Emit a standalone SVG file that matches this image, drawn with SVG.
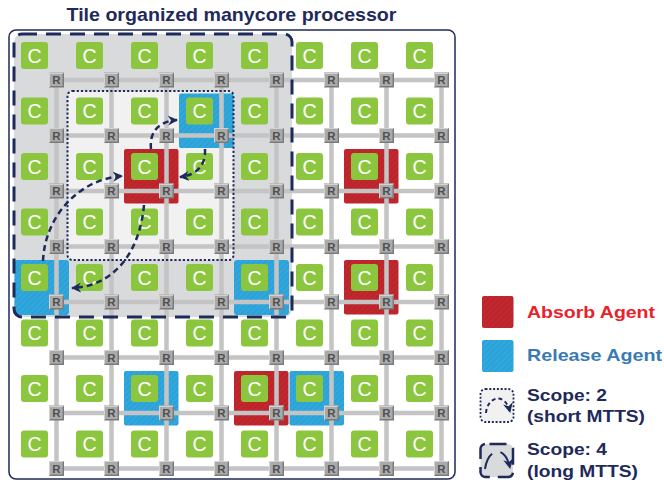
<svg xmlns="http://www.w3.org/2000/svg" xmlns:xlink="http://www.w3.org/1999/xlink" width="664" height="482" viewBox="0 0 664 482">
<style>
  text { font-family: "Liberation Sans", Arial, sans-serif; }
  .title { font-size: 19px; font-weight: bold; fill: #1e2a5a; }
  .legend { font-size: 17px; font-weight: bold; fill: #1e2a5a; }
  .core rect { fill: #8cc63f; }
  .core text { font-size: 19.5px; fill: #ffffff; text-anchor: middle; }
  .router text { font-size: 11.5px; font-weight: bold; fill: #505050; text-anchor: middle; }
  .link { stroke: #c4c4c4; stroke-width: 4.5; fill: none; }
  .mig { stroke: #1e2a5a; stroke-width: 2.5; fill: none; stroke-dasharray: 6 4; marker-end: url(#head); }
  .absorb { fill: url(#hatchRed); }
  .release { fill: url(#hatchBlue); }
</style>
<defs>
  <pattern id="hatchRed" width="4" height="4" patternUnits="userSpaceOnUse" patternTransform="rotate(45)">
    <rect width="4" height="4" fill="#c3272e"/>
    <rect width="1.2" height="4" fill="#b3232a"/>
  </pattern>
  <pattern id="hatchBlue" width="4" height="4" patternUnits="userSpaceOnUse" patternTransform="rotate(45)">
    <rect width="4" height="4" fill="#30a8de"/>
    <rect width="1.2" height="4" fill="#2a9dd3"/>
  </pattern>
  <marker id="head" viewBox="0 0 10 10" refX="9" refY="5" markerWidth="10" markerHeight="10" markerUnits="userSpaceOnUse" orient="auto">
    <path d="M0,0 L10,5 L0,10 L3,5 z" fill="#1e2a5a"/>
  </marker>
  <!-- bevelled router box, centred on 0,0 -->
  <g id="rbox">
    <rect x="-7.5" y="-7.5" width="15" height="15" fill="#7a7a7a"/>
    <path d="M-7.5,-7.5 H7.5 L6,-6 H-6 V6 L-7.5,7.5 Z" fill="#d2d2d2"/>
    <rect x="-6" y="-6" width="12" height="12" fill="#ababab"/>
  </g>
</defs>

<rect width="664" height="482" fill="#ffffff"/>

<text class="title" x="66.5" y="21" textLength="330" lengthAdjust="spacingAndGlyphs">Tile organized manycore processor</text>

<!-- chip outline -->
<rect x="9" y="30" width="446" height="449" rx="7" fill="#ffffff" stroke="#1e2a5a" stroke-width="1.5"/>

<!-- scope areas (fills) -->
<g id="scope4-area"><rect x="14" y="34" width="278" height="283" rx="8" fill="#d9dadc"/></g>
<g id="scope2-area"><rect x="67.5" y="91" width="166" height="169" rx="5" fill="#f1f1f1"/></g>

<!-- agents -->
<g id="agents">
  <rect class="release" x="179" y="93.5" width="54.5" height="54.5" rx="2"/>
  <rect class="absorb" x="124" y="149" width="54.5" height="54.5" rx="2"/>
  <rect class="release" x="14.5" y="260" width="54.5" height="55" rx="3"/>
  <rect class="release" x="234" y="260" width="55" height="55" rx="3"/>
  <rect class="absorb" x="344" y="149" width="54.5" height="54.5" rx="2"/>
  <rect class="absorb" x="344" y="260" width="54.5" height="54.5" rx="2"/>
  <rect class="release" x="124" y="371" width="54.5" height="54.5" rx="2"/>
  <rect class="absorb" x="234" y="371" width="54.5" height="54.5" rx="2"/>
  <rect class="release" x="289.5" y="371" width="54.5" height="54.5" rx="2"/>
</g>

<!-- mesh links between routers -->
<g id="connectors">
  <path class="link" d="M56.5 80H441.5M56.5 135.5H441.5M56.5 191H441.5M56.5 246.5H441.5M56.5 302H441.5M56.5 357.5H441.5M56.5 413H441.5M56.5 468.5H441.5M56.5 80V468.5M111.5 80V468.5M166.5 80V468.5M221.5 80V468.5M276.5 80V468.5M331.5 80V468.5M386.5 80V468.5M441.5 80V468.5"/>
</g>

<!-- cores -->
<g id="cores">
<g id="core-r0-c0" class="core"><rect x="21" y="42" width="27" height="27" rx="3"/><text x="34.5" y="62.5">C</text></g>
<g id="core-r0-c1" class="core"><rect x="76" y="42" width="27" height="27" rx="3"/><text x="89.5" y="62.5">C</text></g>
<g id="core-r0-c2" class="core"><rect x="131" y="42" width="27" height="27" rx="3"/><text x="144.5" y="62.5">C</text></g>
<g id="core-r0-c3" class="core"><rect x="186" y="42" width="27" height="27" rx="3"/><text x="199.5" y="62.5">C</text></g>
<g id="core-r0-c4" class="core"><rect x="241" y="42" width="27" height="27" rx="3"/><text x="254.5" y="62.5">C</text></g>
<g id="core-r0-c5" class="core"><rect x="296" y="42" width="27" height="27" rx="3"/><text x="309.5" y="62.5">C</text></g>
<g id="core-r0-c6" class="core"><rect x="351" y="42" width="27" height="27" rx="3"/><text x="364.5" y="62.5">C</text></g>
<g id="core-r0-c7" class="core"><rect x="406" y="42" width="27" height="27" rx="3"/><text x="419.5" y="62.5">C</text></g>

<g id="core-r1-c0" class="core"><rect x="21" y="97.5" width="27" height="27" rx="3"/><text x="34.5" y="118">C</text></g>
<g id="core-r1-c1" class="core"><rect x="76" y="97.5" width="27" height="27" rx="3"/><text x="89.5" y="118">C</text></g>
<g id="core-r1-c2" class="core"><rect x="131" y="97.5" width="27" height="27" rx="3"/><text x="144.5" y="118">C</text></g>
<g id="core-r1-c3" class="core"><rect x="186" y="97.5" width="27" height="27" rx="3"/><text x="199.5" y="118">C</text></g>
<g id="core-r1-c4" class="core"><rect x="241" y="97.5" width="27" height="27" rx="3"/><text x="254.5" y="118">C</text></g>
<g id="core-r1-c5" class="core"><rect x="296" y="97.5" width="27" height="27" rx="3"/><text x="309.5" y="118">C</text></g>
<g id="core-r1-c6" class="core"><rect x="351" y="97.5" width="27" height="27" rx="3"/><text x="364.5" y="118">C</text></g>
<g id="core-r1-c7" class="core"><rect x="406" y="97.5" width="27" height="27" rx="3"/><text x="419.5" y="118">C</text></g>

<g id="core-r2-c0" class="core"><rect x="21" y="153" width="27" height="27" rx="3"/><text x="34.5" y="173.5">C</text></g>
<g id="core-r2-c1" class="core"><rect x="76" y="153" width="27" height="27" rx="3"/><text x="89.5" y="173.5">C</text></g>
<g id="core-r2-c2" class="core"><rect x="131" y="153" width="27" height="27" rx="3"/><text x="144.5" y="173.5">C</text></g>
<g id="core-r2-c3" class="core"><rect x="186" y="153" width="27" height="27" rx="3"/><text x="199.5" y="173.5">C</text></g>
<g id="core-r2-c4" class="core"><rect x="241" y="153" width="27" height="27" rx="3"/><text x="254.5" y="173.5">C</text></g>
<g id="core-r2-c5" class="core"><rect x="296" y="153" width="27" height="27" rx="3"/><text x="309.5" y="173.5">C</text></g>
<g id="core-r2-c6" class="core"><rect x="351" y="153" width="27" height="27" rx="3"/><text x="364.5" y="173.5">C</text></g>
<g id="core-r2-c7" class="core"><rect x="406" y="153" width="27" height="27" rx="3"/><text x="419.5" y="173.5">C</text></g>

<g id="core-r3-c0" class="core"><rect x="21" y="208.5" width="27" height="27" rx="3"/><text x="34.5" y="229">C</text></g>
<g id="core-r3-c1" class="core"><rect x="76" y="208.5" width="27" height="27" rx="3"/><text x="89.5" y="229">C</text></g>
<g id="core-r3-c2" class="core"><rect x="131" y="208.5" width="27" height="27" rx="3"/><text x="144.5" y="229">C</text></g>
<g id="core-r3-c3" class="core"><rect x="186" y="208.5" width="27" height="27" rx="3"/><text x="199.5" y="229">C</text></g>
<g id="core-r3-c4" class="core"><rect x="241" y="208.5" width="27" height="27" rx="3"/><text x="254.5" y="229">C</text></g>
<g id="core-r3-c5" class="core"><rect x="296" y="208.5" width="27" height="27" rx="3"/><text x="309.5" y="229">C</text></g>
<g id="core-r3-c6" class="core"><rect x="351" y="208.5" width="27" height="27" rx="3"/><text x="364.5" y="229">C</text></g>
<g id="core-r3-c7" class="core"><rect x="406" y="208.5" width="27" height="27" rx="3"/><text x="419.5" y="229">C</text></g>

<g id="core-r4-c0" class="core"><rect x="21" y="264" width="27" height="27" rx="3"/><text x="34.5" y="284.5">C</text></g>
<g id="core-r4-c1" class="core"><rect x="76" y="264" width="27" height="27" rx="3"/><text x="89.5" y="284.5">C</text></g>
<g id="core-r4-c2" class="core"><rect x="131" y="264" width="27" height="27" rx="3"/><text x="144.5" y="284.5">C</text></g>
<g id="core-r4-c3" class="core"><rect x="186" y="264" width="27" height="27" rx="3"/><text x="199.5" y="284.5">C</text></g>
<g id="core-r4-c4" class="core"><rect x="241" y="264" width="27" height="27" rx="3"/><text x="254.5" y="284.5">C</text></g>
<g id="core-r4-c5" class="core"><rect x="296" y="264" width="27" height="27" rx="3"/><text x="309.5" y="284.5">C</text></g>
<g id="core-r4-c6" class="core"><rect x="351" y="264" width="27" height="27" rx="3"/><text x="364.5" y="284.5">C</text></g>
<g id="core-r4-c7" class="core"><rect x="406" y="264" width="27" height="27" rx="3"/><text x="419.5" y="284.5">C</text></g>

<g id="core-r5-c0" class="core"><rect x="21" y="319.5" width="27" height="27" rx="3"/><text x="34.5" y="340">C</text></g>
<g id="core-r5-c1" class="core"><rect x="76" y="319.5" width="27" height="27" rx="3"/><text x="89.5" y="340">C</text></g>
<g id="core-r5-c2" class="core"><rect x="131" y="319.5" width="27" height="27" rx="3"/><text x="144.5" y="340">C</text></g>
<g id="core-r5-c3" class="core"><rect x="186" y="319.5" width="27" height="27" rx="3"/><text x="199.5" y="340">C</text></g>
<g id="core-r5-c4" class="core"><rect x="241" y="319.5" width="27" height="27" rx="3"/><text x="254.5" y="340">C</text></g>
<g id="core-r5-c5" class="core"><rect x="296" y="319.5" width="27" height="27" rx="3"/><text x="309.5" y="340">C</text></g>
<g id="core-r5-c6" class="core"><rect x="351" y="319.5" width="27" height="27" rx="3"/><text x="364.5" y="340">C</text></g>
<g id="core-r5-c7" class="core"><rect x="406" y="319.5" width="27" height="27" rx="3"/><text x="419.5" y="340">C</text></g>

<g id="core-r6-c0" class="core"><rect x="21" y="375" width="27" height="27" rx="3"/><text x="34.5" y="395.5">C</text></g>
<g id="core-r6-c1" class="core"><rect x="76" y="375" width="27" height="27" rx="3"/><text x="89.5" y="395.5">C</text></g>
<g id="core-r6-c2" class="core"><rect x="131" y="375" width="27" height="27" rx="3"/><text x="144.5" y="395.5">C</text></g>
<g id="core-r6-c3" class="core"><rect x="186" y="375" width="27" height="27" rx="3"/><text x="199.5" y="395.5">C</text></g>
<g id="core-r6-c4" class="core"><rect x="241" y="375" width="27" height="27" rx="3"/><text x="254.5" y="395.5">C</text></g>
<g id="core-r6-c5" class="core"><rect x="296" y="375" width="27" height="27" rx="3"/><text x="309.5" y="395.5">C</text></g>
<g id="core-r6-c6" class="core"><rect x="351" y="375" width="27" height="27" rx="3"/><text x="364.5" y="395.5">C</text></g>
<g id="core-r6-c7" class="core"><rect x="406" y="375" width="27" height="27" rx="3"/><text x="419.5" y="395.5">C</text></g>

<g id="core-r7-c0" class="core"><rect x="21" y="430.5" width="27" height="27" rx="3"/><text x="34.5" y="451">C</text></g>
<g id="core-r7-c1" class="core"><rect x="76" y="430.5" width="27" height="27" rx="3"/><text x="89.5" y="451">C</text></g>
<g id="core-r7-c2" class="core"><rect x="131" y="430.5" width="27" height="27" rx="3"/><text x="144.5" y="451">C</text></g>
<g id="core-r7-c3" class="core"><rect x="186" y="430.5" width="27" height="27" rx="3"/><text x="199.5" y="451">C</text></g>
<g id="core-r7-c4" class="core"><rect x="241" y="430.5" width="27" height="27" rx="3"/><text x="254.5" y="451">C</text></g>
<g id="core-r7-c5" class="core"><rect x="296" y="430.5" width="27" height="27" rx="3"/><text x="309.5" y="451">C</text></g>
<g id="core-r7-c6" class="core"><rect x="351" y="430.5" width="27" height="27" rx="3"/><text x="364.5" y="451">C</text></g>
<g id="core-r7-c7" class="core"><rect x="406" y="430.5" width="27" height="27" rx="3"/><text x="419.5" y="451">C</text></g>
</g>

<!-- routers -->
<g id="routers">
<g id="router-r0-c0" class="router"><use href="#rbox" x="56.5" y="80"/><text x="56.5" y="84">R</text></g>
<g id="router-r0-c1" class="router"><use href="#rbox" x="111.5" y="80"/><text x="111.5" y="84">R</text></g>
<g id="router-r0-c2" class="router"><use href="#rbox" x="166.5" y="80"/><text x="166.5" y="84">R</text></g>
<g id="router-r0-c3" class="router"><use href="#rbox" x="221.5" y="80"/><text x="221.5" y="84">R</text></g>
<g id="router-r0-c4" class="router"><use href="#rbox" x="276.5" y="80"/><text x="276.5" y="84">R</text></g>
<g id="router-r0-c5" class="router"><use href="#rbox" x="331.5" y="80"/><text x="331.5" y="84">R</text></g>
<g id="router-r0-c6" class="router"><use href="#rbox" x="386.5" y="80"/><text x="386.5" y="84">R</text></g>
<g id="router-r0-c7" class="router"><use href="#rbox" x="441.5" y="80"/><text x="441.5" y="84">R</text></g>

<g id="router-r1-c0" class="router"><use href="#rbox" x="56.5" y="135.5"/><text x="56.5" y="139.5">R</text></g>
<g id="router-r1-c1" class="router"><use href="#rbox" x="111.5" y="135.5"/><text x="111.5" y="139.5">R</text></g>
<g id="router-r1-c2" class="router"><use href="#rbox" x="166.5" y="135.5"/><text x="166.5" y="139.5">R</text></g>
<g id="router-r1-c3" class="router"><use href="#rbox" x="221.5" y="135.5"/><text x="221.5" y="139.5">R</text></g>
<g id="router-r1-c4" class="router"><use href="#rbox" x="276.5" y="135.5"/><text x="276.5" y="139.5">R</text></g>
<g id="router-r1-c5" class="router"><use href="#rbox" x="331.5" y="135.5"/><text x="331.5" y="139.5">R</text></g>
<g id="router-r1-c6" class="router"><use href="#rbox" x="386.5" y="135.5"/><text x="386.5" y="139.5">R</text></g>
<g id="router-r1-c7" class="router"><use href="#rbox" x="441.5" y="135.5"/><text x="441.5" y="139.5">R</text></g>

<g id="router-r2-c0" class="router"><use href="#rbox" x="56.5" y="191"/><text x="56.5" y="195">R</text></g>
<g id="router-r2-c1" class="router"><use href="#rbox" x="111.5" y="191"/><text x="111.5" y="195">R</text></g>
<g id="router-r2-c2" class="router"><use href="#rbox" x="166.5" y="191"/><text x="166.5" y="195">R</text></g>
<g id="router-r2-c3" class="router"><use href="#rbox" x="221.5" y="191"/><text x="221.5" y="195">R</text></g>
<g id="router-r2-c4" class="router"><use href="#rbox" x="276.5" y="191"/><text x="276.5" y="195">R</text></g>
<g id="router-r2-c5" class="router"><use href="#rbox" x="331.5" y="191"/><text x="331.5" y="195">R</text></g>
<g id="router-r2-c6" class="router"><use href="#rbox" x="386.5" y="191"/><text x="386.5" y="195">R</text></g>
<g id="router-r2-c7" class="router"><use href="#rbox" x="441.5" y="191"/><text x="441.5" y="195">R</text></g>

<g id="router-r3-c0" class="router"><use href="#rbox" x="56.5" y="246.5"/><text x="56.5" y="250.5">R</text></g>
<g id="router-r3-c1" class="router"><use href="#rbox" x="111.5" y="246.5"/><text x="111.5" y="250.5">R</text></g>
<g id="router-r3-c2" class="router"><use href="#rbox" x="166.5" y="246.5"/><text x="166.5" y="250.5">R</text></g>
<g id="router-r3-c3" class="router"><use href="#rbox" x="221.5" y="246.5"/><text x="221.5" y="250.5">R</text></g>
<g id="router-r3-c4" class="router"><use href="#rbox" x="276.5" y="246.5"/><text x="276.5" y="250.5">R</text></g>
<g id="router-r3-c5" class="router"><use href="#rbox" x="331.5" y="246.5"/><text x="331.5" y="250.5">R</text></g>
<g id="router-r3-c6" class="router"><use href="#rbox" x="386.5" y="246.5"/><text x="386.5" y="250.5">R</text></g>
<g id="router-r3-c7" class="router"><use href="#rbox" x="441.5" y="246.5"/><text x="441.5" y="250.5">R</text></g>

<g id="router-r4-c0" class="router"><use href="#rbox" x="56.5" y="302"/><text x="56.5" y="306">R</text></g>
<g id="router-r4-c1" class="router"><use href="#rbox" x="111.5" y="302"/><text x="111.5" y="306">R</text></g>
<g id="router-r4-c2" class="router"><use href="#rbox" x="166.5" y="302"/><text x="166.5" y="306">R</text></g>
<g id="router-r4-c3" class="router"><use href="#rbox" x="221.5" y="302"/><text x="221.5" y="306">R</text></g>
<g id="router-r4-c4" class="router"><use href="#rbox" x="276.5" y="302"/><text x="276.5" y="306">R</text></g>
<g id="router-r4-c5" class="router"><use href="#rbox" x="331.5" y="302"/><text x="331.5" y="306">R</text></g>
<g id="router-r4-c6" class="router"><use href="#rbox" x="386.5" y="302"/><text x="386.5" y="306">R</text></g>
<g id="router-r4-c7" class="router"><use href="#rbox" x="441.5" y="302"/><text x="441.5" y="306">R</text></g>

<g id="router-r5-c0" class="router"><use href="#rbox" x="56.5" y="357.5"/><text x="56.5" y="361.5">R</text></g>
<g id="router-r5-c1" class="router"><use href="#rbox" x="111.5" y="357.5"/><text x="111.5" y="361.5">R</text></g>
<g id="router-r5-c2" class="router"><use href="#rbox" x="166.5" y="357.5"/><text x="166.5" y="361.5">R</text></g>
<g id="router-r5-c3" class="router"><use href="#rbox" x="221.5" y="357.5"/><text x="221.5" y="361.5">R</text></g>
<g id="router-r5-c4" class="router"><use href="#rbox" x="276.5" y="357.5"/><text x="276.5" y="361.5">R</text></g>
<g id="router-r5-c5" class="router"><use href="#rbox" x="331.5" y="357.5"/><text x="331.5" y="361.5">R</text></g>
<g id="router-r5-c6" class="router"><use href="#rbox" x="386.5" y="357.5"/><text x="386.5" y="361.5">R</text></g>
<g id="router-r5-c7" class="router"><use href="#rbox" x="441.5" y="357.5"/><text x="441.5" y="361.5">R</text></g>

<g id="router-r6-c0" class="router"><use href="#rbox" x="56.5" y="413"/><text x="56.5" y="417">R</text></g>
<g id="router-r6-c1" class="router"><use href="#rbox" x="111.5" y="413"/><text x="111.5" y="417">R</text></g>
<g id="router-r6-c2" class="router"><use href="#rbox" x="166.5" y="413"/><text x="166.5" y="417">R</text></g>
<g id="router-r6-c3" class="router"><use href="#rbox" x="221.5" y="413"/><text x="221.5" y="417">R</text></g>
<g id="router-r6-c4" class="router"><use href="#rbox" x="276.5" y="413"/><text x="276.5" y="417">R</text></g>
<g id="router-r6-c5" class="router"><use href="#rbox" x="331.5" y="413"/><text x="331.5" y="417">R</text></g>
<g id="router-r6-c6" class="router"><use href="#rbox" x="386.5" y="413"/><text x="386.5" y="417">R</text></g>
<g id="router-r6-c7" class="router"><use href="#rbox" x="441.5" y="413"/><text x="441.5" y="417">R</text></g>

<g id="router-r7-c0" class="router"><use href="#rbox" x="56.5" y="468.5"/><text x="56.5" y="472.5">R</text></g>
<g id="router-r7-c1" class="router"><use href="#rbox" x="111.5" y="468.5"/><text x="111.5" y="472.5">R</text></g>
<g id="router-r7-c2" class="router"><use href="#rbox" x="166.5" y="468.5"/><text x="166.5" y="472.5">R</text></g>
<g id="router-r7-c3" class="router"><use href="#rbox" x="221.5" y="468.5"/><text x="221.5" y="472.5">R</text></g>
<g id="router-r7-c4" class="router"><use href="#rbox" x="276.5" y="468.5"/><text x="276.5" y="472.5">R</text></g>
<g id="router-r7-c5" class="router"><use href="#rbox" x="331.5" y="468.5"/><text x="331.5" y="472.5">R</text></g>
<g id="router-r7-c6" class="router"><use href="#rbox" x="386.5" y="468.5"/><text x="386.5" y="472.5">R</text></g>
<g id="router-r7-c7" class="router"><use href="#rbox" x="441.5" y="468.5"/><text x="441.5" y="472.5">R</text></g>
</g>

<!-- scope borders drawn over the mesh -->
<g id="scope4-border"><rect x="14" y="34" width="278" height="283" rx="8" fill="none" stroke="#1e2a5a" stroke-width="3" stroke-dasharray="15 9"/></g>
<g id="scope2-border"><rect x="67.5" y="91" width="166" height="169" rx="5" fill="none" stroke="#1e2a5a" stroke-width="2" stroke-dasharray="2.2 2"/></g>

<!-- task migration paths -->
<g id="migrations">
  <path class="mig" d="M151,149 C149,131 160,121 177,120"/>
  <path class="mig" d="M205,149 C206,166 196,175 180,177"/>
  <path class="mig" d="M43,261 C45,215 80,179 122,176"/>
  <path class="mig" d="M144,205 C140,250 116,286 72,288"/>
</g>

<!-- legend -->
<g id="legend">
  <g id="legend-absorb">
    <rect class="absorb" x="482" y="296" width="31.5" height="32" rx="2"/>
    <text class="legend" x="527" y="317.5" style="fill:#e8212b" textLength="128" lengthAdjust="spacingAndGlyphs">Absorb Agent</text>
  </g>
  <g id="legend-release">
    <rect class="release" x="482" y="340" width="31.5" height="32" rx="2"/>
    <text class="legend" x="527" y="361" style="fill:#3a7ab4" textLength="135" lengthAdjust="spacingAndGlyphs">Release Agent</text>
  </g>
  <g id="legend-scope2">
    <rect x="480.5" y="389" width="33" height="33" rx="5" fill="#f1f1f1" stroke="#1e2a5a" stroke-width="1.8" stroke-dasharray="2 1.8"/>
    <path d="M486,413 C487,397 505,391 510,412" fill="none" stroke="#1e2a5a" stroke-width="2" stroke-dasharray="4 3" marker-end="url(#head)"/>
    <text class="legend" x="527" y="400.5" textLength="80" lengthAdjust="spacingAndGlyphs">Scope: 2</text>
    <text class="legend" x="527" y="421.5" textLength="118" lengthAdjust="spacingAndGlyphs">(short MTTS)</text>
  </g>
  <g id="legend-scope4">
    <rect x="480.5" y="444" width="32.5" height="33" rx="5" fill="#d9dadc" stroke="#1e2a5a" stroke-width="2.5" stroke-dasharray="17 8" stroke-dashoffset="-4"/>
    <path d="M485,469 C488,448 505,444 510,468" fill="none" stroke="#1e2a5a" stroke-width="2" stroke-dasharray="17 9" marker-end="url(#head)"/>
    <text class="legend" x="527" y="455" textLength="80" lengthAdjust="spacingAndGlyphs">Scope: 4</text>
    <text class="legend" x="527" y="476.5" textLength="111" lengthAdjust="spacingAndGlyphs">(long MTTS)</text>
  </g>
</g>
</svg>
